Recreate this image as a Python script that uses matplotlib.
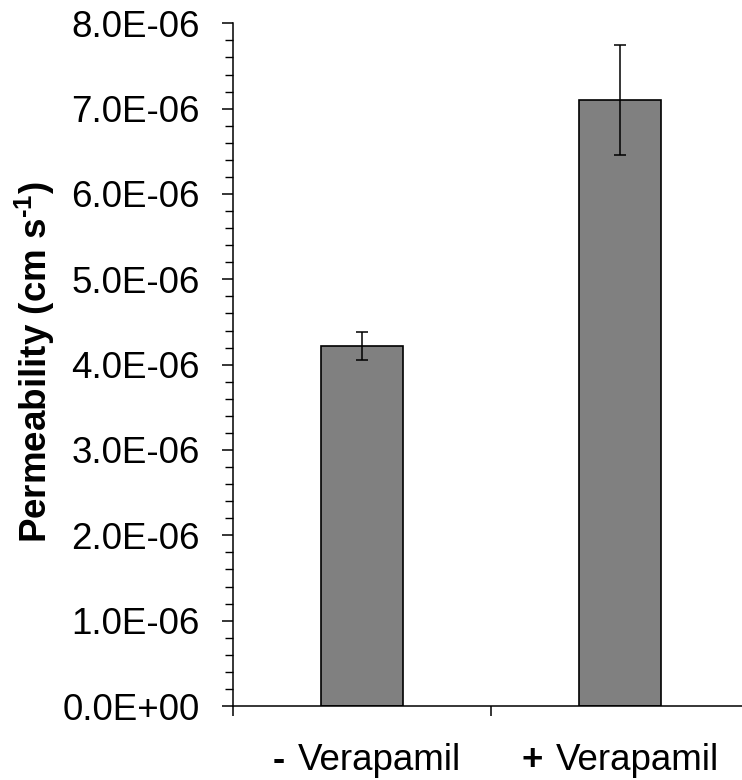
import matplotlib
matplotlib.use("Agg")
import matplotlib.pyplot as plt
from matplotlib.ticker import MultipleLocator, FuncFormatter

plt.rcParams['font.family'] = ['Liberation Sans', 'DejaVu Sans']
plt.rcParams['mathtext.fontset'] = 'custom'
plt.rcParams['mathtext.rm'] = 'Liberation Sans:bold'
plt.rcParams['mathtext.bf'] = 'Liberation Sans:bold'

categories = ["- Verapamil", "+ Verapamil"]
values = [4.22e-6, 7.10e-6]
errors = [0.16e-6, 0.645e-6]
y_label = r"Permeability (cm s$^{\text{-1}}$)"

fig = plt.figure(figsize=(7.42, 7.8), dpi=100)
ax = fig.add_axes([233/742, 74/780, 516/742, 682.7/780])

x = list(range(len(categories)))
ax.bar(x, values, width=0.314, color='#808080', edgecolor='black', linewidth=1.2, zorder=2)
ax.errorbar(x, values, yerr=errors, fmt='none', ecolor='black', elinewidth=1.1,
            capsize=4.4, capthick=1.1, zorder=3)

ax.set_xlim(-0.5, len(categories) - 0.5)
ax.set_ylim(0, 8e-6)
ax.yaxis.set_major_locator(MultipleLocator(1e-6))
ax.yaxis.set_minor_locator(MultipleLocator(0.2e-6))
ax.yaxis.set_major_formatter(FuncFormatter(lambda v, p: f"{v:.1E}"))
ax.set_xticks([i - 0.5 for i in range(len(categories) + 1)])
ax.set_xticklabels([])

for s in ['top', 'right']:
    ax.spines[s].set_visible(False)
for s in ['left', 'bottom']:
    ax.spines[s].set_linewidth(1.1)

ax.tick_params(axis='y', which='major', direction='out', length=8, width=1.1,
               labelsize=26.5, pad=16)
ax.tick_params(axis='y', which='minor', direction='out', length=5.8, width=1.0)
ax.tick_params(axis='x', which='major', direction='out', length=7.5, width=1.1)

for i, cat in enumerate(categories):
    sign, rest = cat.split(" ", 1)
    ax.annotate(rest, xy=(i, 0), xycoords=('data', 'axes fraction'),
                xytext=(-64, -64), textcoords='offset pixels',
                ha='left', va='baseline', fontsize=26.5, annotation_clip=False)
    ax.annotate(sign, xy=(i, 0), xycoords=('data', 'axes fraction'),
                xytext=(-77, -64), textcoords='offset pixels',
                ha='right', va='baseline', fontsize=26.5, fontweight='bold',
                annotation_clip=False)

fig.text(35/742, 1 - 362/780, y_label, rotation=90, ha='center', va='center',
         fontsize=26.5, fontweight='bold')

fig.savefig("out.png", dpi=100)
